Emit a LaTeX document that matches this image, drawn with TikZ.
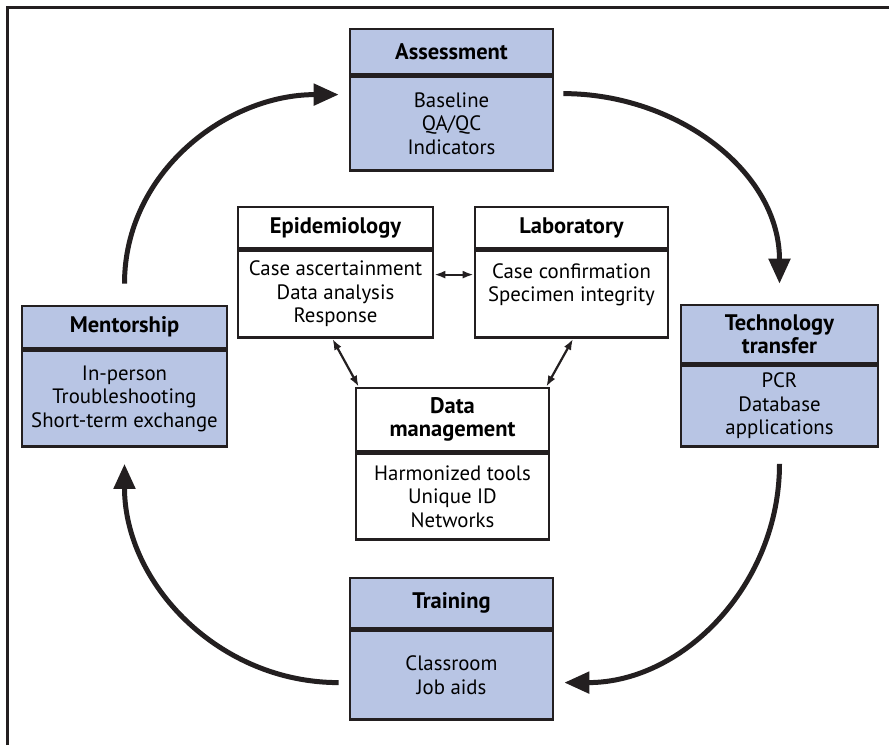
\documentclass[tikz,border=0pt]{standalone}
\usepackage{fontspec}
\setmainfont{PT Sans}
\usetikzlibrary{arrows.meta}
\definecolor{boxblue}{RGB}{184,197,228}
\definecolor{inkgray}{RGB}{35,31,32}

\begin{document}
\begin{tikzpicture}[x=1pt,y=1pt,
    headbox/.style={draw=inkgray, line width=2.6pt, align=center, inner sep=0pt,
      font=\fontsize{22.5}{23}\selectfont\bfseries},
    bodybox/.style={draw=inkgray, line width=2.6pt, align=center, inner sep=0pt, anchor=north,
      font=\fontsize{20.8}{23.5}\selectfont},
    bigarrow/.style={-{Triangle[length=25pt,width=21pt]}, line width=5pt, draw=inkgray},
    link/.style={{Latex[length=11pt,width=8pt]}-{Latex[length=11pt,width=8pt]}, line width=2.2pt, draw=inkgray}]
    \useasboundingbox (0,0) rectangle (889,-745);
    \draw[line width=3pt, draw=inkgray] (7,-745) -- (7,-7) -- (889,-7);

    % outer cycle
    \node[headbox, fill=boxblue, minimum width=203, minimum height=45] (assessh) at (451.5,-51.5) {Assessment};
    \node[bodybox, fill=boxblue, minimum width=203, minimum height=94] (assessb) at (assessh.south) {Baseline\\QA/QC\\Indicators};
    \node[headbox, fill=boxblue, minimum width=197, minimum height=58] (techh) at (779.5,-334) {Technology\\transfer};
    \node[bodybox, fill=boxblue, minimum width=197, minimum height=81] (techb) at (techh.south) {PCR\\Database\\applications};
    \node[headbox, fill=boxblue, minimum width=203, minimum height=50] (trainh) at (451.5,-603) {Training};
    \node[bodybox, fill=boxblue, minimum width=203, minimum height=89] (trainb) at (trainh.south) {Classroom\\Job aids};
    \node[headbox, fill=boxblue, minimum width=205, minimum height=42] (menth) at (124.5,-327) {Mentorship};
    \node[bodybox, fill=boxblue, minimum width=205, minimum height=96] (mentb) at (menth.south) {In-person\\Troubleshooting\\Short-term exchange};

    % inner boxes
    \node[headbox, fill=white, minimum width=195, minimum height=41] (epih) at (335.5,-227.5) {Epidemiology};
    \node[bodybox, fill=white, minimum width=195, minimum height=87] (epib) at (epih.south) {Case ascertainment\\Data analysis\\Response};
    \node[headbox, fill=white, minimum width=193, minimum height=41] (labh) at (571.5,-227.5) {Laboratory};
    \node[bodybox, fill=white, minimum width=193, minimum height=87] (labb) at (labh.south) {Case confirmation\\Specimen integrity\\\mbox{}};
    \node[headbox, fill=white, minimum width=193, minimum height=63] (dmh) at (452.5,-419.5) {Data\\management};
    \node[bodybox, fill=white, minimum width=193, minimum height=86] (dmb) at (dmh.south) {Harmonized tools\\Unique ID\\Networks};

    \draw[bigarrow] ([shift={(9,30)}]assessb.east) to[out=0,in=90] ([yshift=20]techh.north);
    \draw[bigarrow] ([yshift=-16]techb.south) to[out=-90,in=0] ([shift={(10,-7.5)}]trainb.east);
    \draw[bigarrow] ([shift={(-10,-7.5)}]trainb.west) to[out=180,in=-90] ([yshift=-16]mentb.south);
    \draw[bigarrow] ([yshift=21]menth.north) to[out=90,in=180] ([shift={(-10,29)}]assessb.west);

    \draw[link] ([yshift=19.5]epib.east) -- ([yshift=19.5]labb.west);
    \draw[link] ([xshift=-3]epib.south) -- ([xshift=4]dmh.north west);
    \draw[link] ([xshift=1.5]labb.south) -- ([xshift=-4]dmh.north east);
\end{tikzpicture}
\end{document}
